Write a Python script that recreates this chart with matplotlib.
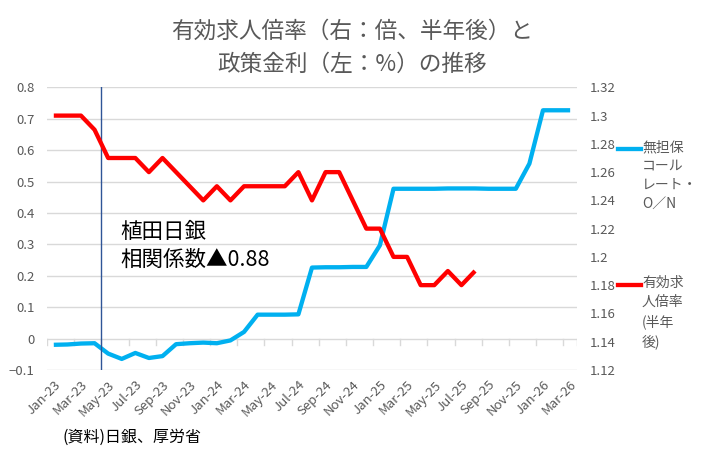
import matplotlib.pyplot as plt
from matplotlib.lines import Line2D

plt.rcParams['font.family'] = ['Noto Sans CJK JP', 'DejaVu Sans']

# ============================================================
# DATA
# ============================================================

# monthly, Jan-23 .. Mar-26
call_rate = [-0.020, -0.019, -0.016, -0.015, -0.048, -0.065, -0.046, -0.062,
             -0.056, -0.018, -0.015, -0.013, -0.015, -0.006, 0.021, 0.076,
             0.076, 0.076, 0.077, 0.226, 0.227, 0.227, 0.228, 0.228,
             0.297, 0.477, 0.477, 0.477, 0.477, 0.478, 0.478, 0.478,
             0.477, 0.477, 0.477, 0.557, 0.727, 0.727, 0.727]

# jobs-to-applicants ratio, shifted 6 months, Jan-23 .. Aug-25
job_ratio = [1.30, 1.30, 1.30, 1.29, 1.27, 1.27, 1.27, 1.26,
             1.27, 1.26, 1.25, 1.24, 1.25, 1.24, 1.25, 1.25,
             1.25, 1.25, 1.26, 1.24, 1.26, 1.26, 1.24, 1.22,
             1.22, 1.20, 1.20, 1.18, 1.18, 1.19, 1.18, 1.19]

month_labels = ['Jan-23', 'Mar-23', 'May-23', 'Jul-23', 'Sep-23', 'Nov-23',
                'Jan-24', 'Mar-24', 'May-24', 'Jul-24', 'Sep-24', 'Nov-24',
                'Jan-25', 'Mar-25', 'May-25', 'Jul-25', 'Sep-25', 'Nov-25',
                'Jan-26', 'Mar-26']

left_ticks = [-0.1, 0, 0.1, 0.2, 0.3, 0.4, 0.5, 0.6, 0.7, 0.8]
right_ticks = [1.12, 1.14, 1.16, 1.18, 1.2, 1.22, 1.24, 1.26, 1.28, 1.3, 1.32]

BLUE = '#00B0F0'
RED = '#FF0000'
GREY = '#595959'
GRID = '#D9D9D9'

# ============================================================
# PLOT
# ============================================================

fig = plt.figure(figsize=(7.23, 4.55), dpi=100)
ax = fig.add_axes([0.065, 0.187, 0.733, 0.621])
ax2 = ax.twinx()

n = len(call_rate)
ax.set_xlim(-0.5, n - 0.5)
ax.set_ylim(-0.1, 0.8)
ax2.set_ylim(1.12, 1.32)

ax.set_yticks(left_ticks)
ax.set_yticklabels(['−0.1', '0', '0.1', '0.2', '0.3', '0.4', '0.5', '0.6', '0.7', '0.8'])
ax2.set_yticks(right_ticks)
ax2.set_yticklabels(['1.12', '1.14', '1.16', '1.18', '1.2', '1.22', '1.24',
                     '1.26', '1.28', '1.3', '1.32'])

for y in left_ticks:
    ax.axhline(y, color=GRID, lw=1, zorder=0)

# small tick marks hanging from the zero line
for b in range(0, n, 2):
    ax.plot([b - 0.5, b - 0.5], [0, -0.021], color=GRID, lw=1, zorder=0)
ax.plot([n - 0.5, n - 0.5], [0, -0.021], color=GRID, lw=1, zorder=0)

ax.plot(range(n), call_rate, color=BLUE, lw=3.1, solid_capstyle='butt', zorder=3)
ax2.plot(range(len(job_ratio)), job_ratio, color=RED, lw=3.1,
         solid_capstyle='butt', zorder=3)

ax.axvline(3.45, color='#2F5597', lw=1, zorder=4)

ax.set_xticks(range(0, n, 2))
ax.set_xticklabels(month_labels, rotation=45, ha='right', rotation_mode='anchor')

for a in (ax, ax2):
    for s in a.spines.values():
        s.set_visible(False)
    a.tick_params(length=0, colors=GREY, labelsize=9.5)
ax.tick_params(axis='x', pad=6)
ax.tick_params(axis='y', pad=9)
ax2.tick_params(axis='y', pad=9)

ax.text(4.9, 0.338, '植田日銀', fontsize=15.5, color='black', va='center')
ax.text(4.9, 0.249, '相関係数▲0.88', fontsize=15.5, color='black', va='center')

fig.text(0.487, 0.932, '有効求人倍率（右：倍、半年後）と', ha='center', va='center',
         fontsize=16.3, color=GREY)
fig.text(0.487, 0.858, '政策金利（左：%）の推移', ha='center', va='center',
         fontsize=16.3, color=GREY)

# legend at the right
fig.add_artist(Line2D([618 / 723, 641 / 723], [1 - 149 / 455, 1 - 149 / 455],
                      color=BLUE, lw=3.1))
fig.text(642 / 723, 1 - 140 / 455, '無担保\nコール\nレート・\nO／N', fontsize=10,
         color=GREY, va='top', ha='left', linespacing=1.45)
fig.add_artist(Line2D([618 / 723, 641 / 723], [1 - 285 / 455, 1 - 285 / 455],
                      color=RED, lw=3.1))
fig.text(642 / 723, 1 - 276 / 455, '有効求\n人倍率\n(半年\n後)', fontsize=10,
         color=GREY, va='top', ha='left', linespacing=1.45)

fig.text(62 / 723, 1 - 437 / 455, '(資料)日銀、厚労省', fontsize=11.5, color='black',
         va='center', ha='left')

plt.savefig('out.png', dpi=100)
